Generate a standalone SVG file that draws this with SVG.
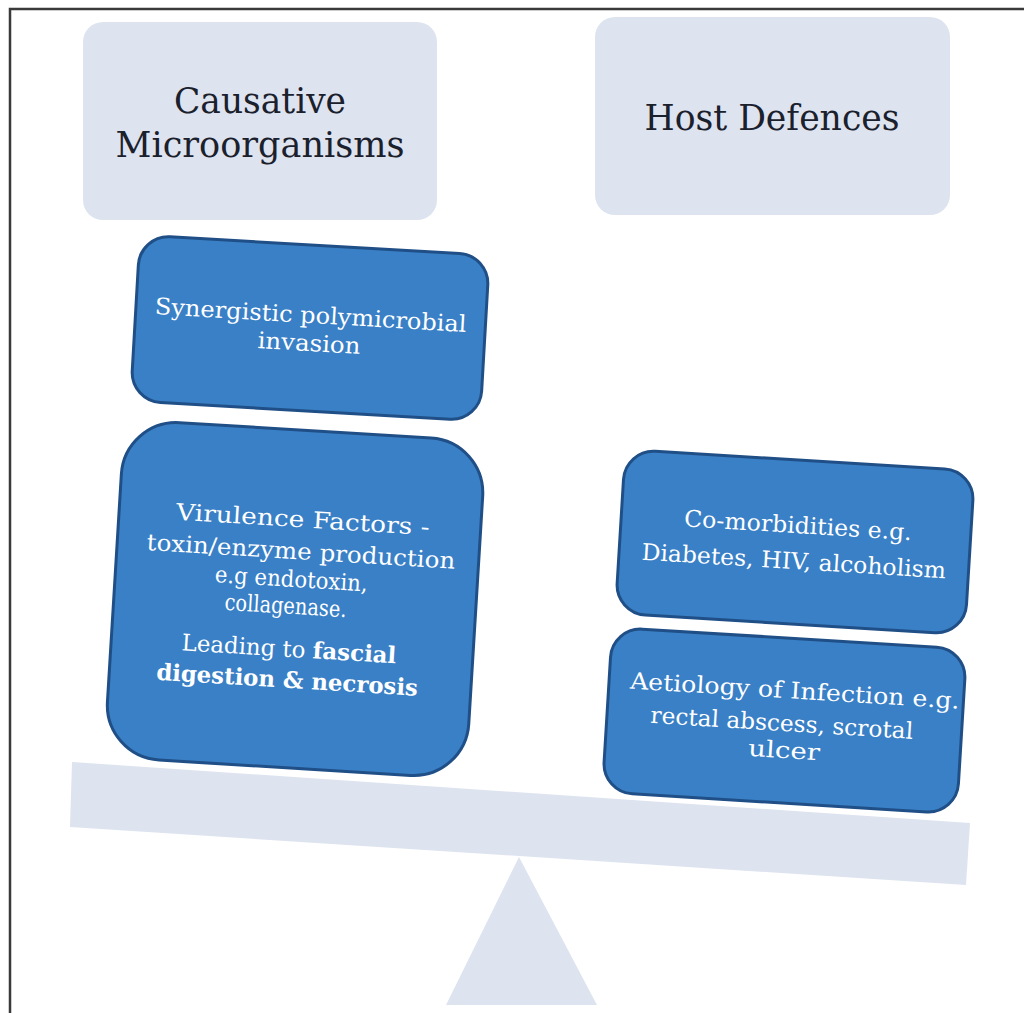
<svg xmlns="http://www.w3.org/2000/svg" width="1024" height="1013" viewBox="0 0 1024 1013">
<style>
.frame{fill:none;stroke:#3a3a3a;stroke-width:2.5}
.pale{fill:#dde3ef}
.blue{fill:#3a80c6;stroke:#1f4f86;stroke-width:3}
.head{font-family:"DejaVu Serif","Liberation Serif",serif;font-size:35px;fill:#1a202c;text-anchor:middle}
.wt{font-family:"DejaVu Serif","Liberation Serif",serif;font-size:23px;fill:#ffffff;text-anchor:middle}
.b{font-weight:bold}
</style>
<rect width="1024" height="1013" fill="#ffffff"/>
<path class="frame" d="M10,1013 V9 H1024"/>
<g id="scale">
<polygon class="pale" points="72,762 970,823 966,885 70,827"/>
<polygon class="pale" points="519,857 597,1005 446,1005"/>
</g>
<g id="causative">
<rect class="pale" x="83" y="22" width="354" height="198" rx="20"/>
<text class="head" x="260" y="113" textLength="172" lengthAdjust="spacingAndGlyphs">Causative</text>
<text class="head" x="260" y="157" textLength="289" lengthAdjust="spacingAndGlyphs">Microorganisms</text>
</g>
<g id="host">
<rect class="pale" x="595" y="17" width="355" height="198" rx="20"/>
<text class="head" x="772" y="130" textLength="255" lengthAdjust="spacingAndGlyphs">Host Defences</text>
</g>
<g id="synergistic" transform="rotate(3.3 310 328)">
<rect class="blue" x="135" y="245" width="350" height="166" rx="30"/>
<text class="wt" x="310" y="323" textLength="312" lengthAdjust="spacingAndGlyphs">Synergistic polymicrobial</text>
<text class="wt" x="310" y="351" textLength="103" lengthAdjust="spacingAndGlyphs">invasion</text>
</g>
<g id="virulence" transform="rotate(3.5 294 600)">
<rect class="blue" x="114" y="430" width="362" height="338" rx="55"/>
<text class="wt" x="298" y="527" textLength="254" lengthAdjust="spacingAndGlyphs">Virulence Factors -</text>
<text class="wt" x="298" y="559" textLength="309" lengthAdjust="spacingAndGlyphs">toxin/enzyme production</text>
<text class="wt" x="290" y="587" textLength="153" lengthAdjust="spacingAndGlyphs">e.g endotoxin,</text>
<text class="wt" x="286" y="614" textLength="122" lengthAdjust="spacingAndGlyphs">collagenase.</text>
<text class="wt" x="292" y="657" textLength="215" lengthAdjust="spacingAndGlyphs">Leading to <tspan class="b">fascial</tspan></text>
<text class="wt b" x="292" y="688" textLength="262" lengthAdjust="spacingAndGlyphs">digestion &amp; necrosis</text>
</g>
<g id="comorbidities" transform="rotate(3.5 795 542)">
<rect class="blue" x="620" y="460" width="350" height="164" rx="30"/>
<text class="wt" x="797" y="533" textLength="228" lengthAdjust="spacingAndGlyphs">Co-morbidities e.g.</text>
<text class="wt" x="795" y="569" textLength="305" lengthAdjust="spacingAndGlyphs">Diabetes, HIV, alcoholism</text>
</g>
<g id="aetiology" transform="rotate(3.5 784 720)">
<rect class="blue" x="607" y="638" width="355" height="165" rx="30"/>
<text class="wt" x="793" y="698" textLength="330" lengthAdjust="spacingAndGlyphs">Aetiology of Infection e.g.</text>
<text class="wt" x="782" y="731" textLength="263" lengthAdjust="spacingAndGlyphs">rectal abscess, scrotal</text>
<text class="wt" x="786" y="758" textLength="72" lengthAdjust="spacingAndGlyphs">ulcer</text>
</g>
<g id="connectors"/>
</svg>
